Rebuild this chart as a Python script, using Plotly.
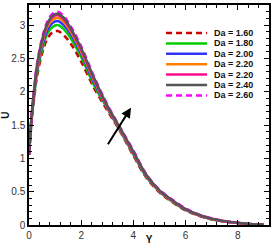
import plotly.graph_objects as go

Y = [0, 0.1, 0.2, 0.3, 0.5, 0.7, 0.9, 1.1, 1.3, 1.6, 2.0, 2.5, 3.0, 3.5, 4.0,
     4.5, 5.0, 5.5, 6.0, 6.5, 7.0, 7.5, 8.0, 8.5, 9.0]

u_da160 = [1.05, 1.54, 1.90, 2.21, 2.57, 2.79, 2.89, 2.91, 2.86, 2.72, 2.45, 2.05, 1.72, 1.40, 1.04,
           0.71, 0.49, 0.34, 0.22, 0.14, 0.085, 0.05, 0.028, 0.012, 0.005]
u_da180 = [1.05, 1.57, 1.94, 2.26, 2.63, 2.87, 2.97, 3.00, 2.95, 2.80, 2.52, 2.09, 1.75, 1.41, 1.06,
           0.72, 0.50, 0.35, 0.226, 0.144, 0.087, 0.052, 0.029, 0.012, 0.005]
u_da200 = [1.05, 1.59, 1.97, 2.30, 2.68, 2.92, 3.03, 3.06, 3.01, 2.86, 2.57, 2.13, 1.76, 1.42, 1.07,
           0.73, 0.505, 0.355, 0.23, 0.147, 0.089, 0.053, 0.030, 0.013, 0.005]
u_da220a = [1.05, 1.61, 1.99, 2.33, 2.72, 2.97, 3.08, 3.11, 3.06, 2.90, 2.60, 2.16, 1.77, 1.43, 1.08,
            0.74, 0.51, 0.36, 0.234, 0.15, 0.091, 0.055, 0.031, 0.013, 0.005]
u_da220b = [1.05, 1.62, 2.01, 2.35, 2.75, 3.00, 3.12, 3.15, 3.10, 2.93, 2.63, 2.18, 1.78, 1.44, 1.09,
            0.745, 0.515, 0.365, 0.237, 0.152, 0.093, 0.056, 0.032, 0.014, 0.005]
u_da240 = [1.05, 1.63, 2.03, 2.37, 2.77, 3.02, 3.14, 3.17, 3.12, 2.95, 2.65, 2.20, 1.79, 1.45, 1.10,
           0.75, 0.52, 0.37, 0.24, 0.155, 0.095, 0.058, 0.033, 0.014, 0.005]
u_da260 = [1.05, 1.65, 2.05, 2.40, 2.80, 3.05, 3.17, 3.20, 3.15, 2.98, 2.68, 2.22, 1.81, 1.46, 1.12,
           0.76, 0.53, 0.38, 0.25, 0.16, 0.10, 0.06, 0.035, 0.015, 0.005]

names = ["Da = 1.60", "Da = 1.80", "Da = 2.00", "Da = 2.20", "Da = 2.20", "Da = 2.40", "Da = 2.60"]
series = [u_da160, u_da180, u_da200, u_da220a, u_da220b, u_da240, u_da260]
colors = ["#CC0000", "#00CC00", "#3333FF", "#FF8000", "#FF0A8C", "#555555", "#FF00FF"]
dashes = ["6px,4px", "solid", "solid", "solid", "solid", "solid", "6px,4px"]

fig = go.Figure()
draw_order = [0, 1, 2, 3, 4, 6, 5]
for i in draw_order:
    fig.add_trace(go.Scatter(x=Y, y=series[i], mode="lines", name=names[i],
                             line=dict(color=colors[i], width=2.5, dash=dashes[i], shape="spline"),
                             showlegend=False))

# manual compact legend
x0, x1, xt = 0.571, 0.742, 0.7625
row0, step = (225 - 33) / 220, 10.4 / 220
for i, nm in enumerate(names):
    yy = row0 - i * step
    fig.add_shape(type="line", xref="paper", yref="paper", x0=x0, x1=x1, y0=yy, y1=yy,
                  line=dict(color=colors[i], width=2.5, dash=dashes[i]))
    fig.add_annotation(xref="paper", yref="paper", x=xt, y=yy, text="<b>" + nm + "</b>",
                       showarrow=False, xanchor="left", yanchor="middle",
                       font=dict(family="Arial, Liberation Sans", size=9, color="#111111"))

fig.add_annotation(x=3.91, y=1.76, ax=2.99, ay=1.19, xref="x", yref="y", axref="x", ayref="y",
                   text="", showarrow=True, arrowhead=2, arrowsize=1, arrowwidth=2, arrowcolor="black")

axis_common = dict(showline=True, linecolor="black", linewidth=1.5, mirror="ticks",
                   ticks="inside", ticklen=5, tickwidth=1, tickcolor="black",
                   showgrid=False, zeroline=False, automargin=False,
                   tickfont=dict(family="Arial, Liberation Sans", size=10, color="#333333"))

fig.update_xaxes(range=[0, 9.2], dtick=2, tick0=0, ticklabelstandoff=0,
                 minor=dict(ticks="inside", ticklen=3, dtick=0.4, tick0=0, tickcolor="black", showgrid=False),
                 title=dict(text="<b>Y</b>", standoff=0,
                            font=dict(family="Arial, Liberation Sans", size=10, color="#111111")),
                 **axis_common)
fig.update_yaxes(range=[0, 3.3], dtick=0.5, tick0=0, ticklabelstandoff=0,
                 minor=dict(ticks="inside", ticklen=3, dtick=0.1, tick0=0, tickcolor="black", showgrid=False),
                 title=dict(text="<b>U</b>", standoff=2,
                            font=dict(family="Arial, Liberation Sans", size=10, color="#111111")),
                 **axis_common)

fig.update_layout(width=275, height=245, margin=dict(l=29, r=6, t=5, b=20),
                  plot_bgcolor="white", paper_bgcolor="white", showlegend=False)

fig.write_html("out.html", config={"displayModeBar": False},
               post_script="document.body.style.margin='0';")
